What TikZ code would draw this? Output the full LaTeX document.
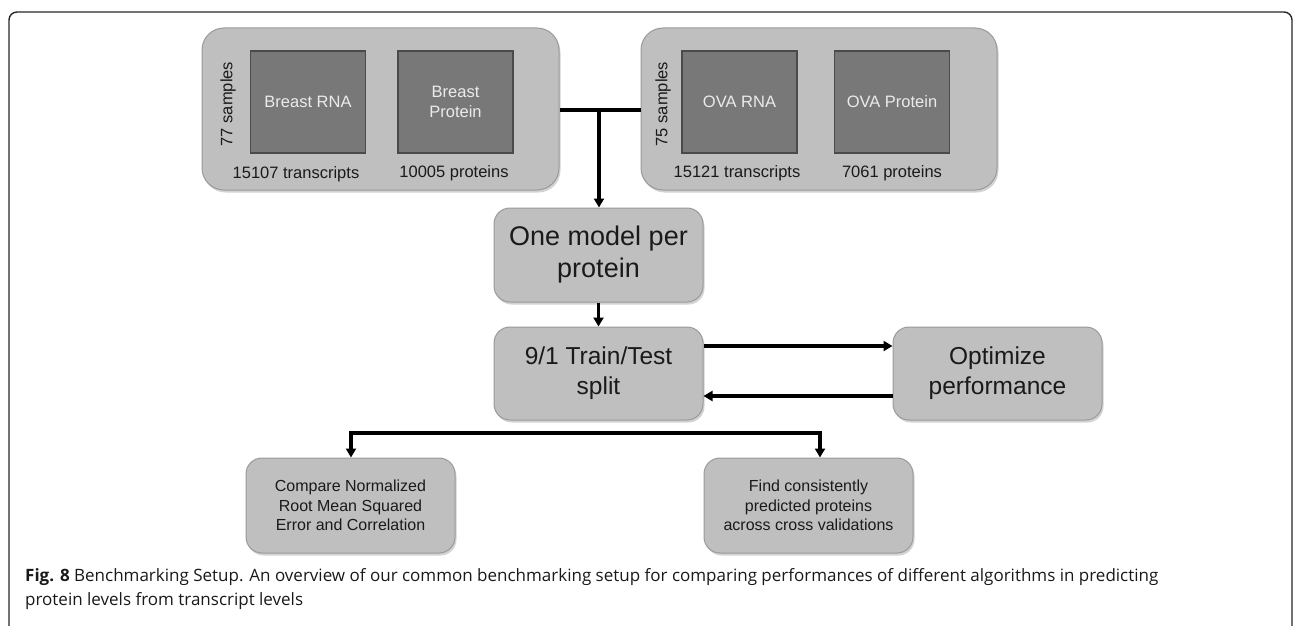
\documentclass[tikz,border=0pt]{standalone}
\usepackage{fontspec}
\setmainfont{Liberation Sans}
\newfontfamily\capfont{Open Sans}
\usetikzlibrary{arrows.meta,shadows,calc}
\definecolor{boxfill}{HTML}{BFBFBF}
\definecolor{boxline}{HTML}{9A9A9A}
\definecolor{darkfill}{HTML}{787878}
\definecolor{darkline}{HTML}{4A4A4A}
\definecolor{txt}{HTML}{1A1A1A}
\begin{document}
\begin{tikzpicture}[x=1pt,y=-1pt,
  grpbox/.style={draw=boxline,fill=boxfill,line width=1pt,rounded corners=22pt,
    minimum width=357pt,minimum height=162pt,inner sep=0pt,
    drop shadow={opacity=0.35,shadow xshift=1.5pt,shadow yshift=-2.5pt}},
  databox/.style={draw=darkline,fill=darkfill,line width=1.2pt,
    minimum width=115pt,minimum height=102pt,inner sep=0pt,
    text=white!92!black,font=\fontsize{16.5}{19.5}\selectfont,align=center},
  stepbox/.style={draw=boxline,fill=boxfill,line width=1pt,rounded corners=16pt,
    minimum width=209pt,minimum height=93pt,inner sep=0pt,align=center,text=txt,
    drop shadow={opacity=0.35,shadow xshift=1.5pt,shadow yshift=-2.5pt}},
  lbl/.style={text=txt,font=\fontsize{16.5}{19}\selectfont,inner sep=0pt},
  conn/.style={line width=3.2pt,black},
  arr/.style={conn,-{Triangle[length=9pt,width=10pt]}}
]
\useasboundingbox (0,0) rectangle (1295,626);
% outer frame
\draw[line width=1.4pt,black!85,rounded corners=8pt] (9,626) -- (9,12) -- (1292,12) -- (1292,626);

% data groups
\node[grpbox] (leftgrp) at (380.5,109) {};
\node[grpbox,minimum width=356pt] (rightgrp) at (819,109) {};
\node[databox] (brna) at (308,102) {Breast RNA};
\node[databox] (bprot) at (455.5,102) {Breast\\Protein};
\node[databox] (orna) at (739.5,102) {OVA RNA};
\node[databox] (oprot) at (892,102) {OVA Protein};
\node[lbl,rotate=90] (s77) at (228,104) {77 samples};
\node[lbl,rotate=90] (s75) at (663,104) {75 samples};
\node[lbl] (t1) at (296,174) {15107 transcripts};
\node[lbl] (p1) at (454,173) {10005 proteins};
\node[lbl] (t2) at (737,173) {15121 transcripts};
\node[lbl] (p2) at (892,173) {7061 proteins};

% steps
\node[stepbox,minimum height=94pt,font=\fontsize{27}{32}\selectfont] (onemodel) at (598.5,255) {One model per\\protein};
\node[stepbox,font=\fontsize{24.5}{30}\selectfont] (split) at (598.5,373.5) {9/1 Train/Test\\split};
\node[stepbox,font=\fontsize{24.5}{30}\selectfont] (optimize) at (997.5,373.5) {Optimize\\performance};
\node[stepbox,minimum height=95pt,font=\fontsize{16}{19.5}\selectfont] (compare) at (350.5,505.5) {Compare Normalized\\Root Mean Squared\\Error and Correlation};
\node[stepbox,minimum height=95pt,font=\fontsize{16}{19.5}\selectfont] (find) at (808.5,505.5) {Find consistently\\predicted proteins\\across cross validations};

% connectors
\coordinate (j) at (599,110);
\draw[conn] (leftgrp.east |- j) -- (rightgrp.west |- j);
\draw[arr] (j) -- (j |- onemodel.north);
\draw[arr] (onemodel.south) -- (split.north);
\coordinate (a1) at (0,346);
\coordinate (a2) at (0,396);
\draw[arr] (split.east |- a1) -- (optimize.west |- a1);
\draw[arr] (optimize.west |- a2) -- (split.east |- a2);
\coordinate (hl) at (351,433);
\coordinate (hr) at (820,433);
\draw[conn,line cap=rect] (hl) -- (hr);
\draw[arr] (hl) -- (hl |- compare.north);
\draw[arr] (hr) -- (hr |- find.north);

% caption
\node[anchor=north west,align=left,inner sep=0pt,font=\capfont\fontsize{17}{24}\selectfont,text=black!90] (cap) at (25,568)
  {\textbf{Fig. 8} Benchmarking Setup. An overview of our common benchmarking setup for comparing performances of different algorithms in predicting\\protein levels from transcript levels};
\end{tikzpicture}
\end{document}
